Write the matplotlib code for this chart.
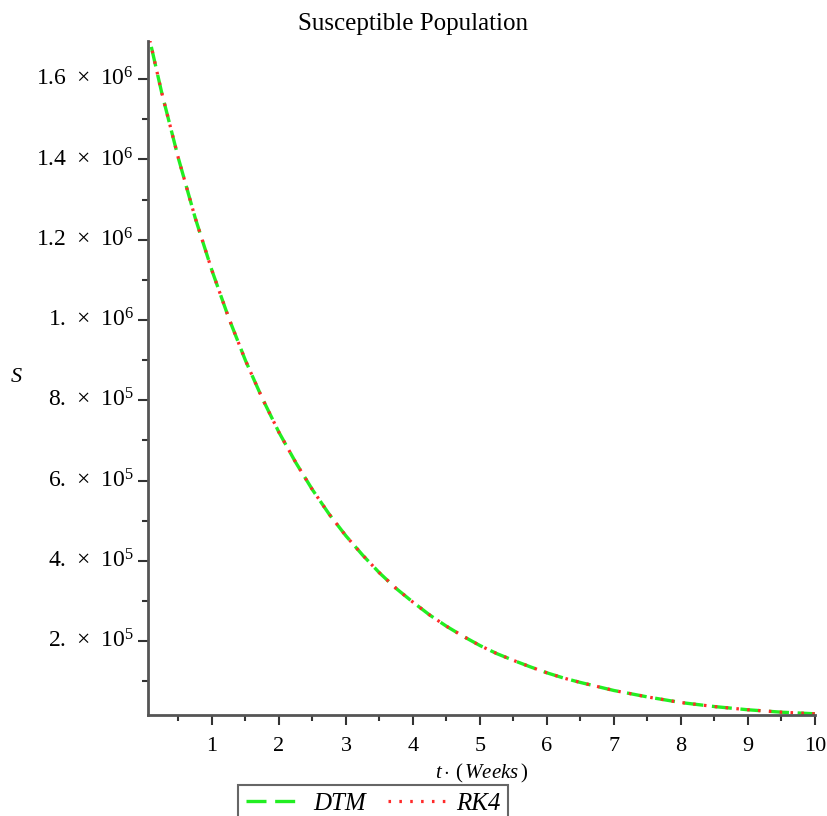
import matplotlib
matplotlib.use("Agg")
import matplotlib.pyplot as plt
from matplotlib.ticker import MultipleLocator, FixedLocator, FixedFormatter

# === data (t in weeks, S in people) ===
t_weeks = [0, 0.25, 0.5, 0.75, 1.0, 1.25, 1.5, 1.75, 2.0, 2.25, 2.5, 2.75,
           3.0, 3.25, 3.5, 3.75, 4.0, 4.25, 4.5, 4.75, 5.0, 5.25, 5.5, 5.75,
           6.0, 6.25, 6.5, 6.75, 7.0, 7.25, 7.5, 7.75, 8.0, 8.25, 8.5, 8.75,
           9.0, 9.25, 9.5, 9.75, 10.0]
s_dtm = [1750000, 1566000, 1402000, 1254000, 1123000, 1005000, 899000, 805000,
         720000, 645000, 577000, 516000, 462000, 414000, 370000, 331000,
         297000, 265000, 237000, 212000, 189000, 169000, 152000, 136000,
         121000, 108000, 97000, 87000, 77000, 69000, 61000, 54000,
         47000, 42000, 37000, 33000, 29000, 26000, 23000, 21000, 19000]
s_rk4 = [1750000, 1566000, 1402000, 1254000, 1123000, 1005000, 899000, 805000,
         720000, 645000, 577000, 516000, 462000, 414000, 370000, 331000,
         297000, 265000, 237000, 212000, 189000, 169000, 152000, 136000,
         121000, 108000, 97000, 87000, 77000, 69000, 61000, 54000,
         47000, 42000, 37000, 33000, 29000, 26000, 23000, 21000, 19000]

y_ticks = [200000, 400000, 600000, 800000, 1000000, 1200000, 1400000, 1600000]
mant = ["2.", "4.", "6.", "8.", "1.", "1.2", "1.4", "1.6"]
expo = ["5", "5", "5", "5", "6", "6", "6", "6"]
# Maple style "1.6 x 10^6" labels
y_labels = [m + " \u2009\u00d7\u2009 10$^{" + e + "}$" for m, e in zip(mant, expo)]

plt.rcParams["font.family"] = ["Liberation Serif", "DejaVu Serif"]
plt.rcParams["mathtext.fontset"] = "custom"
plt.rcParams["mathtext.rm"] = "Liberation Serif"
plt.rcParams["mathtext.it"] = "Liberation Serif:italic"

fig = plt.figure(figsize=(8.27, 8.16), dpi=100)
ax = fig.add_axes([148 / 827, 1 - 715 / 816, (815 - 148) / 827, (715 - 41) / 816])

ax.plot(t_weeks, s_dtm, color="#22ee22", lw=2.4, ls=(0, (6, 2.6)), label="DTM")
ax.plot(t_weeks, s_rk4, color="#ff2a2a", lw=2.3, ls=(0, (0.8, 2.6)), label="RK4")

ax.set_xlim(0.045, 10)
ax.set_ylim(16000, 1695000)

# only left and bottom axes
for side in ["top", "right"]:
    ax.spines[side].set_visible(False)
for side in ["left", "bottom"]:
    ax.spines[side].set_color("#555555")
    ax.spines[side].set_linewidth(2)

ax.xaxis.set_major_locator(FixedLocator(range(1, 11)))
ax.xaxis.set_minor_locator(MultipleLocator(0.5))
ax.yaxis.set_major_locator(FixedLocator(y_ticks))
ax.yaxis.set_major_formatter(FixedFormatter(y_labels))
ax.yaxis.set_minor_locator(MultipleLocator(100000))

ax.tick_params(which="major", direction="out", length=7, width=1.5,
               color="#333333", labelsize=16)
ax.tick_params(which="minor", direction="out", length=4, width=1.5, color="#333333")
ax.tick_params(axis="x", which="major", pad=9)
ax.tick_params(axis="y", which="major", pad=3)
for lab in ax.get_yticklabels():
    lab.set_verticalalignment("center")
    lab.set_fontsize(17)

fig.text(0.5, 1 - 24 / 816, "Susceptible Population", fontsize=18,
         ha="center", va="center")
ax.set_xlabel(r"$t\cdot\,(\,Weeks\,)$", fontsize=15, labelpad=4)
ax.set_ylabel(r"$S$", fontsize=16, rotation=0, va="center", ha="center")
ax.yaxis.set_label_coords(-0.198, 0.50)

leg = fig.legend(loc="upper left", bbox_to_anchor=(238 / 827, 1 - 785 / 816),
                 borderaxespad=0, ncol=2, fancybox=False, framealpha=1,
                 edgecolor="#666666", prop={"style": "italic", "size": 18},
                 handlelength=2.3, handletextpad=0.4, columnspacing=0.9,
                 borderpad=0.3)
leg.get_frame().set_linewidth(1.5)

fig.savefig("out.png", dpi=100)
